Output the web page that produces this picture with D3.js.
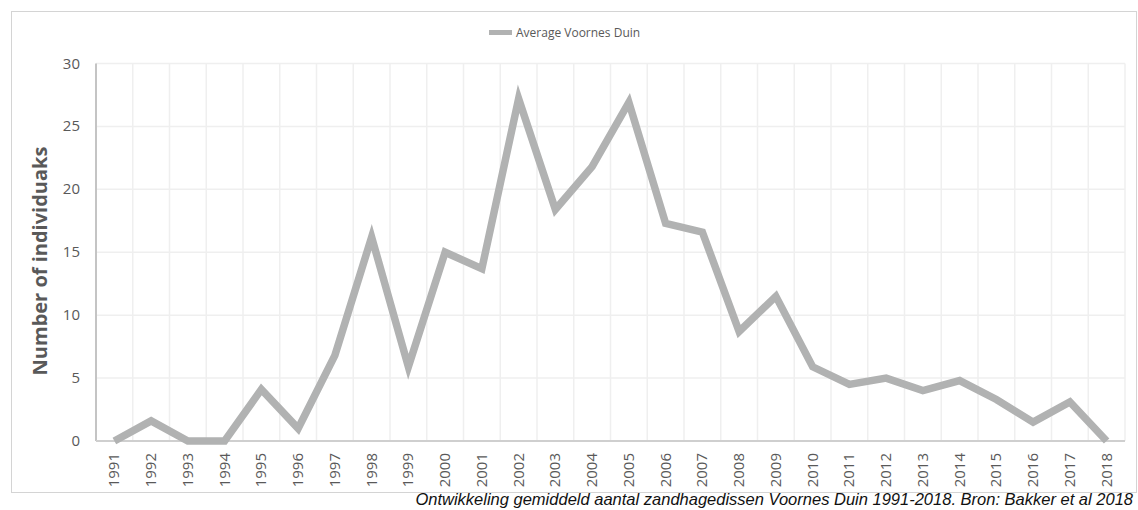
<!DOCTYPE html>
<html>
<head>
<meta charset="utf-8">
<script src="https://cdn.jsdelivr.net/npm/d3@7"></script>
<style>
  body { margin: 0; background: #fff; }
  svg text { font-family: "Open Sans", "Noto Sans", sans-serif; }
</style>
</head>
<body>
<script>
var width = 1138,
    height = 510;

// years and the average count per year
var years = ['1991','1992','1993','1994','1995','1996','1997','1998','1999','2000',
             '2001','2002','2003','2004','2005','2006','2007','2008','2009','2010',
             '2011','2012','2013','2014','2015','2016','2017','2018'];
var average = [0, 1.6, 0, 0, 4.1, 1.0, 6.8, 16.2, 5.9, 15.0,
               13.7, 27.2, 18.4, 21.8, 26.9, 17.3, 16.6, 8.7, 11.5, 5.9,
               4.5, 5.0, 4.0, 4.8, 3.3, 1.5, 3.1, 0];
var yTicks = [0, 5, 10, 15, 20, 25, 30];

var svg = d3.select('body').append('svg')
    .attr('width', width)
    .attr('height', height);

// outer frame
svg.append('rect')
    .attr('x', 11.5).attr('y', 11.5)
    .attr('width', 1125).attr('height', 481)
    .attr('fill', '#fff')
    .attr('stroke', '#d4d4d4');

var pLeft = 96, pRight = 1125, pTop = 63.5, pBottom = 441;

var x = d3.scaleBand().domain(years).range([pLeft, pRight]);
var y = d3.scaleLinear().domain([0, 30]).range([pBottom, pTop]);

// grid
var grid = svg.append('g');
grid.selectAll('line.h')
    .data(yTicks)
    .enter().append('line')
    .attr('x1', pLeft).attr('x2', pRight)
    .attr('y1', function (d) { return y(d); })
    .attr('y2', function (d) { return y(d); })
    .attr('stroke', '#efefef')
    .attr('stroke-width', 1.5);

grid.selectAll('line.v')
    .data(years)
    .enter().append('line')
    .attr('x1', function (d) { return x(d) + x.bandwidth(); })
    .attr('x2', function (d) { return x(d) + x.bandwidth(); })
    .attr('y1', pTop).attr('y2', pBottom)
    .attr('stroke', '#efefef')
    .attr('stroke-width', 1.5);

// axes lines
svg.append('line')
    .attr('x1', pLeft).attr('x2', pLeft)
    .attr('y1', pTop).attr('y2', pBottom)
    .attr('stroke', '#c4c4c4').attr('stroke-width', 2);
svg.append('line')
    .attr('x1', pLeft).attr('x2', pRight)
    .attr('y1', pBottom).attr('y2', pBottom)
    .attr('stroke', '#cfcfcf').attr('stroke-width', 2);

// y tick labels
svg.selectAll('text.ytick')
    .data(yTicks)
    .enter().append('text')
    .attr('x', 80)
    .attr('y', function (d) { return y(d) + 5; })
    .attr('text-anchor', 'end')
    .attr('font-size', 15)
    .attr('fill', '#595959')
    .text(function (d) { return d; });

// x tick labels
svg.selectAll('text.xtick')
    .data(years)
    .enter().append('text')
    .attr('transform', function (d) {
        return 'translate(' + (x(d) + x.bandwidth() / 2 + 5) + ',453) rotate(-90)';
    })
    .attr('text-anchor', 'end')
    .attr('font-size', 15)
    .attr('fill', '#595959')
    .text(function (d) { return d; });

// y title
svg.append('text')
    .attr('transform', 'translate(47,261) rotate(-90)')
    .attr('text-anchor', 'middle')
    .attr('font-size', 20)
    .attr('font-weight', 'bold')
    .attr('fill', '#595959')
    .text('Number of individuaks');

// the line
var line = d3.line()
    .x(function (d, i) { return x(years[i]) + x.bandwidth() / 2; })
    .y(function (d) { return y(d); });

svg.append('path')
    .datum(average)
    .attr('d', line)
    .attr('fill', 'none')
    .attr('stroke', '#b1b2b2')
    .attr('stroke-width', 7.5)
    .attr('stroke-linejoin', 'miter');

// legend
svg.append('rect')
    .attr('x', 489).attr('y', 30)
    .attr('width', 23).attr('height', 5)
    .attr('fill', '#b1b2b2');
svg.append('text')
    .attr('x', 516).attr('y', 37)
    .attr('font-size', 12)
    .attr('fill', '#595959')
    .text('Average Voornes Duin');

// caption
svg.append('text')
    .attr('x', 1133).attr('y', 505)
    .attr('text-anchor', 'end')
    .attr('font-size', 16.5)
    .attr('font-style', 'italic')
    .attr('fill', '#111')
    .style('font-family', '"Liberation Sans", Arial, sans-serif')
    .text('Ontwikkeling gemiddeld aantal zandhagedissen Voornes Duin 1991-2018. Bron: Bakker et al 2018');
</script>
</body>
</html>
